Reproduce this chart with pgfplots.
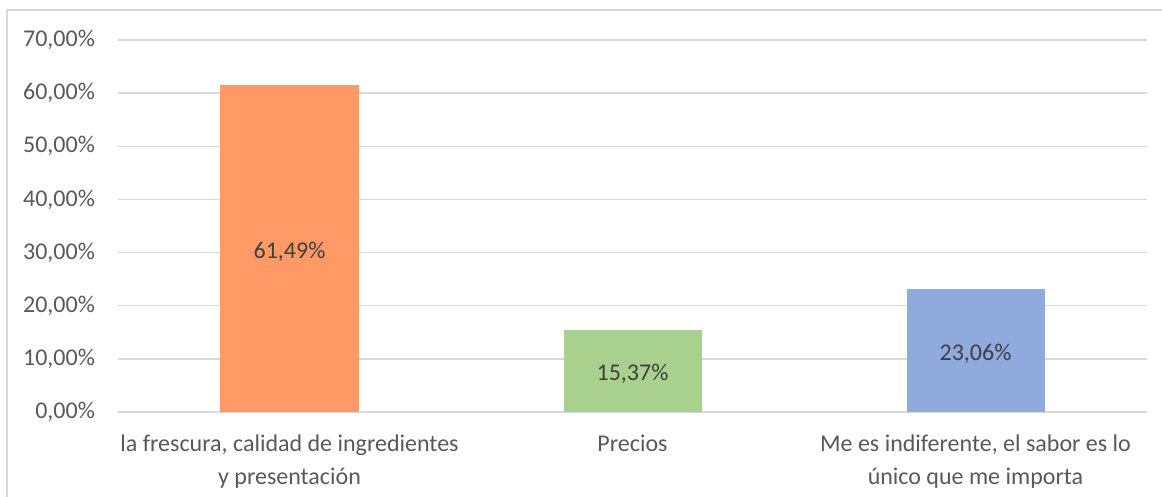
\documentclass[border=0pt]{standalone}
\usepackage{pgfplots}
\pgfplotsset{compat=1.18}
\usepackage{fontspec}
\setmainfont{Carlito}
\definecolor{cOrange}{HTML}{FF9966}
\definecolor{cGreen}{HTML}{A9D18E}
\definecolor{cBlue}{HTML}{8FAADC}
\definecolor{cGrid}{HTML}{D9D9D9}
\definecolor{cText}{HTML}{595959}
\definecolor{cVal}{HTML}{404040}
\begin{document}
\begin{tikzpicture}[x=1pt,y=1pt]
\useasboundingbox (-59,-42.5) rectangle (522,206);
\draw[cGrid, line width=0.75pt] (-55.5,-60) -- (-55.5,201) -- (540,201);
\begin{axis}[
  at={(0,0)}, anchor=south west,
  scale only axis,
  width=514.5pt, height=186pt,
  xmin=-0.5, xmax=2.5, ymin=0, ymax=70,
  ytick={0,10,...,70},
  xtick={0,1,2},
  xticklabels={{la frescura, calidad de ingredientes\\y presentación},{Precios},{Me es indiferente, el sabor es lo\\único que me importa}},
  xticklabel style={align=center, font=\fontsize{12}{16.5}\selectfont, text=cText, yshift=-8pt},
  yticklabel={\pgfmathprintnumber[fixed,fixed zerofill,precision=2,use comma]{\tick}\%},
  yticklabel style={font=\fontsize{12}{14.5}\selectfont, text=cText, xshift=-8pt},
  /pgf/number format/assume math mode=true,
  major tick length=0pt,
  axis line style={draw=none},
  ymajorgrids,
  grid style={cGrid, line width=0.75pt},
  ybar, bar width=69pt, bar shift=0pt,
  nodes near coords,
  point meta=explicit symbolic,
  visualization depends on=rawy \as \rawy,
  every node near coord/.append style={anchor=center, yshift={-1.328571*\rawy-1.5}, font=\fontsize{12}{14.5}\selectfont, text=cVal},
  clip=false,
]
\addplot[fill=cOrange, draw=none] coordinates {(0,61.49) [61,49\%]};
\addplot[fill=cGreen, draw=none] coordinates {(1,15.37) [15,37\%]};
\addplot[fill=cBlue, draw=none] coordinates {(2,23.06) [23,06\%]};
\end{axis}
\end{tikzpicture}
\end{document}
